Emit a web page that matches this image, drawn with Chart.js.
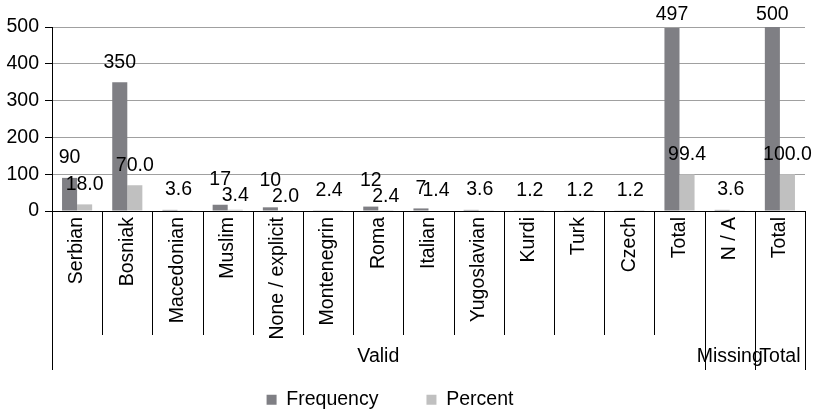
<!DOCTYPE html>
<html><head><meta charset="utf-8">
<script src="https://cdn.jsdelivr.net/npm/chart.js@4"></script>
<style>html,body{margin:0;padding:0;background:#fff}#wrap{width:818px;height:413px;position:relative}</style>
</head><body><div id="wrap"><canvas id="c"></canvas></div>
<script>
const categories = ['Serbian','Bosniak','Macedonian','Muslim','None / explicit','Montenegrin','Roma','Italian','Yugoslavian','Kurdi','Turk','Czech','Total','N / A','Total'];
const frequency = [90,350,3,17,10,2,12,7,3,1,1,1,497,3,500];
const percent = [18.0,70.0,0.6,3.4,2.0,0.4,2.4,1.4,0.6,0.2,0.2,0.2,99.4,0.6,100.0];
const groupLabels = ['Valid','Missing','Total'];
const groupSizes = [13,1,1];
const seriesNames = ['Frequency','Percent'];
const yMax = 500, yStep = 100;

const FONTFAM = '"Liberation Sans", Arial, sans-serif';
const FSIZE = 19.5;
const FONT = FSIZE + 'px ' + FONTFAM;

function boundaryX(xs, k, n){
  const w = xs.getPixelForValue(1) - xs.getPixelForValue(0);
  if (k === 0) return xs.getPixelForValue(0) - w/2;
  if (k === n) return xs.getPixelForValue(n-1) + w/2;
  return (xs.getPixelForValue(k-1) + xs.getPixelForValue(k)) / 2;
}

const valueLabels = {
  id: 'valueLabels',
  afterDatasetsDraw(chart){
    const ctx = chart.ctx;
    const m0 = chart.getDatasetMeta(0), m1 = chart.getDatasetMeta(1);
    const top = chart.chartArea.top;
    ctx.save();
    ctx.font = FONT; ctx.fillStyle = '#000'; ctx.textAlign = 'center'; ctx.textBaseline = 'middle';
    frequency.forEach((f, i) => {
      const b0 = m0.data[i], b1 = m1.data[i];
      const t0 = String(f), t1 = percent[i].toFixed(1);
      let y0 = Math.max(b0.y - 20, top - 12), y1 = Math.max(b1.y - 20, top - 12);
      const w0 = ctx.measureText(t0).width, w1 = ctx.measureText(t1).width;
      const overlapX = (b0.x + w0/2) - (b1.x - w1/2);
      if (Math.abs(b0.y - b1.y) < 2) {
        const txt = t0 + t1.slice(t1.indexOf('.'));
        ctx.fillText(txt, (b0.x + b1.x)/2 + 1, y0);
      } else {
        if (overlapX > 5 && Math.abs(y0 - y1) < 14) {
          const mid = (y0 + y1)/2; y0 = mid - 8; y1 = mid + 8;
        }
        ctx.fillText(t0, b0.x, y0);
        ctx.fillText(t1, b1.x, y1);
      }
    });
    ctx.restore();
  }
};

const groupAxis = {
  id: 'groupAxis',
  afterLayout(chart){
    const L = chart.legend;
    if (L) { const h = L.height; L.top = 342; L.bottom = 342 + h; }
  },
  afterDraw(chart){
    const ctx = chart.ctx, xs = chart.scales.x, n = categories.length;
    const bottom = chart.chartArea.bottom;
    const edges = [0]; groupSizes.forEach(s => edges.push(edges[edges.length-1] + s));
    ctx.save();
    ctx.strokeStyle = '#000'; ctx.lineWidth = 1;
    for (let k = 0; k <= n; k++) {
      const x = Math.round(boundaryX(xs, k, n)) + 0.5;
      const isEdge = edges.includes(k);
      ctx.beginPath(); ctx.moveTo(x, bottom); ctx.lineTo(x, bottom + (isEdge ? 159 : 124)); ctx.stroke();
    }
    ctx.font = FONT; ctx.fillStyle = '#000'; ctx.textAlign = 'center'; ctx.textBaseline = 'middle';
    groupLabels.forEach((g, j) => {
      const cx = (boundaryX(xs, edges[j], n) + boundaryX(xs, edges[j+1], n)) / 2;
      ctx.fillText(g, cx, bottom + 146);
    });
    ctx.restore();
  }
};

new Chart(document.getElementById('c'), {
  type: 'bar',
  data: {
    labels: categories,
    datasets: [
      { label: seriesNames[0], data: frequency, backgroundColor: '#7f7f84', borderWidth: 0, categoryPercentage: 0.6, barPercentage: 1.0 },
      { label: seriesNames[1], data: percent, backgroundColor: '#c0c0c0', borderWidth: 0, categoryPercentage: 0.6, barPercentage: 1.0 }
    ]
  },
  options: {
    responsive: true, maintainAspectRatio: false, animation: false,
    layout: { padding: { top: 27, right: 13, left: -25, bottom: -20 } },
    scales: {
      x: {
        grid: { display: true, drawOnChartArea: false, drawTicks: false },
        border: { display: true, color: '#000', width: 1 },
        ticks: { autoSkip: false, minRotation: 90, maxRotation: 90, padding: 6, color: '#000', font: { family: FONTFAM, size: FSIZE } },
        afterFit(scale){
          const lh = scale.chart.legend ? scale.chart.legend.height : 0;
          scale.height = Math.max(10, scale.chart.height - 211 - lh + 20);
        }
      },
      y: {
        min: 0, max: yMax,
        grid: { color: c => (c.tick && c.tick.value === 0) ? '#000' : '#a0a0a0', tickColor: '#000', tickLength: 7 },
        border: { display: true, color: '#000', width: 1 },
        ticks: { stepSize: yStep, padding: 6, color: '#000', font: { family: FONTFAM, size: FSIZE } },
        afterFit(scale){ scale.width = 77; }
      }
    },
    plugins: {
      legend: {
        position: 'bottom',
        labels: { boxWidth: 10, boxHeight: 10, padding: 48, color: '#000', font: { family: FONTFAM, size: FSIZE } }
      },
      tooltip: { enabled: false }
    }
  },
  plugins: [valueLabels, groupAxis]
});
</script>
</body></html>
